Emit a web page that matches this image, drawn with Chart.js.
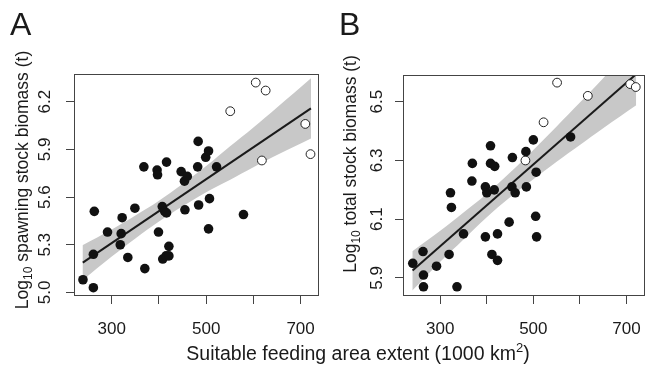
<!DOCTYPE html>
<html>
<head>
<meta charset="utf-8">
<script src="https://cdn.jsdelivr.net/npm/chart.js@4"></script>
<style>
  html, body { margin: 0; padding: 0; background: #fff; }
  #wrap { position: relative; width: 650px; height: 366px; overflow: hidden;
          font-family: "Liberation Sans", Arial, sans-serif; color: #1a1a1a; }
  canvas { position: absolute; top: 0; }
  .letter { position: absolute; top: 8px; font-size: 32px; line-height: 32px; }
  #xtitle { position: absolute; left: 0; width: 716px; top: 343px; text-align: center;
            font-size: 19.5px; line-height: 20px; white-space: nowrap; }
  #xtitle sup { font-size: 13px; vertical-align: 8px; line-height: 0; }
</style>
</head>
<body>
<div id="wrap">
  <canvas id="chartA" width="330" height="366" style="left:0;width:330px;height:366px"></canvas>
  <canvas id="chartB" width="320" height="366" style="left:330px;width:320px;height:366px"></canvas>
  <div class="letter" style="left:10px">A</div>
  <div class="letter" style="left:339px">B</div>
  <div id="xtitle">Suitable feeding area extent (1000 km<sup>2</sup>)</div>
</div>
<script>
// Shared x axis (suitable feeding area, 1000 km2)
const xRange      = [220, 739];
const xTicks      = [300, 400, 500, 600, 700];
const xTickLabels = ['300', '', '500', '', '700'];

// Panel A: log10 spawning stock biomass
const yRangeA  = [4.984, 6.374];
const yTicksA  = [5.0, 5.3, 5.6, 5.9, 6.2];
const yLabelsA = ['5.0', '5.3', '5.6', '5.9', '6.2'];
const filledXA = [239, 261, 261, 263, 291, 320, 322, 318, 334, 349, 368, 370, 396, 397, 416, 399, 407, 412,
                  416, 408, 415, 421, 421, 447, 454, 460, 455, 483, 482, 484, 499, 505, 507, 505, 522, 579];
const filledYA = [5.08, 5.03, 5.24, 5.51, 5.38, 5.37, 5.47, 5.30, 5.22, 5.53, 5.79, 5.15, 5.77, 5.74, 5.82, 5.38, 5.54, 5.51,
                  5.50, 5.21, 5.23, 5.23, 5.29, 5.76, 5.70, 5.73, 5.52, 5.95, 5.79, 5.55, 5.85, 5.89, 5.59, 5.40, 5.79, 5.49];
const openXA   = [605, 626, 551, 710, 618, 721];
const openYA   = [6.32, 6.27, 6.14, 6.06, 5.83, 5.87];
const fitXA    = [238.6, 721.9];
const fitYA    = [5.188, 6.158];
const bandXA   = [238, 300, 350, 400, 450, 500, 550, 600, 650, 722];
const bandUpA  = [5.297, 5.396, 5.484, 5.577, 5.682, 5.795, 5.918, 6.038, 6.164, 6.348];
const bandLoA  = [5.077, 5.226, 5.340, 5.447, 5.542, 5.631, 5.708, 5.788, 5.864, 5.968];

// Panel B: log10 total stock biomass
const yRangeB  = [5.842, 6.591];
const yTicksB  = [5.9, 6.1, 6.3, 6.5];
const yLabelsB = ['5.9', '6.1', '6.3', '6.5'];
const filledXB = [241, 264, 264, 263, 292, 319, 322, 324, 336, 350, 369, 368, 397, 400, 397, 408, 408,
                  417, 416, 411, 423, 423, 448, 455, 454, 461, 484, 485, 500, 506, 505, 507, 580];
const filledYB = [5.95, 5.91, 5.87, 5.99, 5.94, 5.98, 6.19, 6.14, 5.87, 6.05, 6.29, 6.23, 6.21, 6.19, 6.04, 6.35, 6.29,
                  6.28, 6.20, 5.98, 5.96, 6.05, 6.09, 6.31, 6.21, 6.19, 6.33, 6.21, 6.37, 6.26, 6.11, 6.04, 6.38];
const openXB   = [551, 617, 522, 483, 708, 720];
const openYB   = [6.565, 6.52, 6.43, 6.30, 6.56, 6.55];
const fitXB    = [240.5, 721];
const fitYB    = [5.925, 6.594];
const bandXB   = [240, 300, 350, 400, 450, 500, 550, 600, 650, 721];
const bandUpB  = [5.991, 6.061, 6.123, 6.187, 6.259, 6.336, 6.416, 6.497, 6.580, 6.700];
const bandLoB  = [5.857, 5.955, 6.031, 6.107, 6.175, 6.236, 6.296, 6.353, 6.410, 6.488];

const FONT = '"Liberation Sans", Arial, sans-serif';
const ink  = '#1a1a1a';
const pts  = (xs, ys) => xs.map((x, i) => ({ x: x, y: ys[i] }));

// Box, rotated y tick labels, x tick labels and the rotated y title with a subscript.
function panelText(cfg) {
  return {
    id: 'panelText',
    afterDraw(chart) {
      const ctx = chart.ctx, a = chart.chartArea;
      const xs = chart.scales.x, ys = chart.scales.y;
      ctx.save();
      ctx.strokeStyle = '#444';
      ctx.lineWidth = 1;
      ctx.strokeRect(Math.round(a.left) + 0.5, Math.round(a.top) + 0.5,
                     Math.round(a.right - a.left) - 1, Math.round(a.bottom - a.top));
      ctx.fillStyle = ink;
      ctx.font = '17px ' + FONT;
      ctx.textAlign = 'center';
      ctx.textBaseline = 'alphabetic';
      xTicks.forEach((v, i) => {
        if (xTickLabels[i]) ctx.fillText(xTickLabels[i], xs.getPixelForValue(v), 334);
      });
      cfg.yTicks.forEach((v, i) => {
        ctx.save();
        ctx.translate(cfg.tickX, ys.getPixelForValue(v));
        ctx.rotate(-Math.PI / 2);
        ctx.fillText(cfg.yLabels[i], 0, 0);
        ctx.restore();
      });
      // y title: "Log" + subscript "10" + rest
      ctx.save();
      ctx.translate(cfg.titleX, cfg.titleY);
      ctx.rotate(-Math.PI / 2);
      ctx.textAlign = 'left';
      ctx.font = '17.5px ' + FONT;
      const w1 = ctx.measureText('Log').width;
      const w3 = ctx.measureText(cfg.title).width;
      ctx.font = '12px ' + FONT;
      const w2 = ctx.measureText('10').width;
      let x0 = -(w1 + w2 + w3) / 2;
      ctx.font = '17.5px ' + FONT;
      ctx.fillText('Log', x0, 0);
      ctx.font = '12px ' + FONT;
      ctx.fillText('10', x0 + w1, 4);
      ctx.font = '17.5px ' + FONT;
      ctx.fillText(cfg.title, x0 + w1 + w2, 0);
      ctx.restore();
      ctx.restore();
    }
  };
}

function buildPanel(id, d) {
  new Chart(document.getElementById(id), {
    type: 'scatter',
    data: {
      datasets: [
        { type: 'line', data: pts(d.bandX, d.bandUp), borderWidth: 0, pointRadius: 0,
          tension: 0.35, fill: '+1', backgroundColor: '#c8c8c8', order: 5 },
        { type: 'line', data: pts(d.bandX, d.bandLo), borderWidth: 0, pointRadius: 0,
          tension: 0.35, fill: false, order: 6 },
        { type: 'line', data: pts(d.fitX, d.fitY), borderColor: ink, borderWidth: 2,
          pointRadius: 0, fill: false, order: 3 },
        { data: pts(d.openX, d.openY), pointRadius: 4.4, borderWidth: 1,
          borderColor: '#222', backgroundColor: '#fff', order: 2 },
        { data: pts(d.filledX, d.filledY), pointRadius: 4.8, borderWidth: 0,
          backgroundColor: '#111', order: 1 }
      ]
    },
    options: {
      responsive: false,
      animation: false,
      events: [],
      layout: { padding: d.padding },
      plugins: { legend: { display: false }, tooltip: { enabled: false } },
      scales: {
        x: {
          type: 'linear', min: xRange[0], max: xRange[1],
          afterBuildTicks: s => { s.ticks = xTicks.map(v => ({ value: v })); },
          afterFit: s => { s.height = 71; },
          ticks: { display: false },
          border: { display: false },
          grid: { drawOnChartArea: false, drawTicks: true, tickLength: 9, color: '#444' }
        },
        y: {
          type: 'linear', min: d.yRange[0], max: d.yRange[1],
          afterBuildTicks: s => { s.ticks = d.yTicks.map(v => ({ value: v })); },
          afterFit: s => { s.width = d.yWidth; },
          ticks: { display: false },
          border: { display: false },
          grid: { drawOnChartArea: false, drawTicks: true, tickLength: 8, color: '#444' }
        }
      }
    },
    plugins: [panelText(d.text)]
  });
}

buildPanel('chartA', {
  bandX: bandXA, bandUp: bandUpA, bandLo: bandLoA, fitX: fitXA, fitY: fitYA,
  openX: openXA, openY: openYA, filledX: filledXA, filledY: filledYA,
  yRange: yRangeA, yTicks: yTicksA, yWidth: 74,
  padding: { top: 74, right: 11, left: 0, bottom: 0 },
  text: { yTicks: yTicksA, yLabels: yLabelsA, tickX: 50, titleX: 28, titleY: 180,
          title: ' spawning stock biomass (t)' }
});

buildPanel('chartB', {
  bandX: bandXB, bandUp: bandUpB, bandLo: bandLoB, fitX: fitXB, fitY: fitYB,
  openX: openXB, openY: openYB, filledX: filledXB, filledY: filledYB,
  yRange: yRangeB, yTicks: yTicksB, yWidth: 73,
  padding: { top: 75, right: 2, left: 0, bottom: 0 },
  text: { yTicks: yTicksB, yLabels: yLabelsB, tickX: 52, titleX: 26, titleY: 164,
          title: ' total stock biomass (t)' }
});
</script>
</body>
</html>
